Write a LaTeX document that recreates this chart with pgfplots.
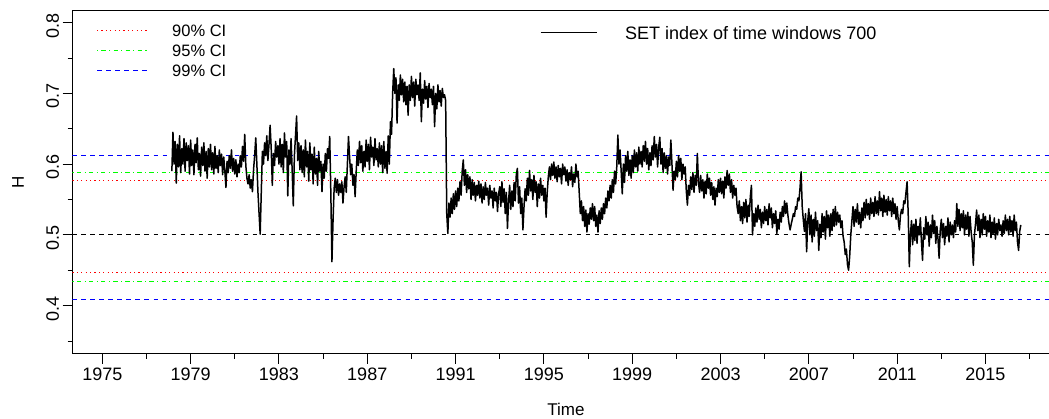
\documentclass[border=0pt]{standalone}
\usepackage{pgfplots}
\pgfplotsset{compat=1.18}
\usepackage{pgfplotstable}
\usepackage{fontspec}
\setmainfont{Liberation Sans}

\definecolor{cired}{RGB}{255,0,0}
\definecolor{cigreen}{RGB}{0,255,0}
\definecolor{ciblue}{RGB}{0,0,255}

\tikzset{
  rdashed/.style={dash pattern=on 4.5pt off 4.5pt},
  rdotted/.style={dash pattern=on 1.1pt off 3.3pt},
  rdotdash/.style={dash pattern=on 1.1pt off 3.3pt on 4.4pt off 3.3pt},
}

% Hurst exponent H of the SET index, rolling window of 700 days
\pgfplotstableread[row sep=\\]{
year H\\
1978.15 0.590\\ 1978.20 0.645\\ 1978.25 0.600\\ 1978.30 0.632\\ 1978.35 0.573\\ 1978.40 0.628\\ 1978.45 0.596\\ 1978.50 0.640\\ 1978.55 0.588\\ 1978.60 0.622\\
1978.65 0.600\\ 1978.70 0.636\\ 1978.75 0.590\\ 1978.80 0.630\\ 1978.85 0.605\\ 1978.90 0.626\\ 1978.95 0.586\\
1979.00 0.634\\ 1979.05 0.598\\ 1979.10 0.620\\ 1979.15 0.585\\ 1979.20 0.628\\ 1979.25 0.602\\ 1979.30 0.637\\ 1979.35 0.592\\ 1979.40 0.615\\ 1979.45 0.583\\
1979.50 0.624\\ 1979.55 0.598\\ 1979.60 0.630\\ 1979.65 0.590\\ 1979.70 0.618\\ 1979.75 0.580\\ 1979.80 0.622\\ 1979.85 0.596\\ 1979.90 0.628\\ 1979.95 0.592\\
1980.00 0.616\\ 1980.05 0.586\\ 1980.10 0.625\\ 1980.15 0.594\\ 1980.20 0.612\\ 1980.25 0.588\\ 1980.30 0.620\\ 1980.35 0.598\\ 1980.40 0.614\\ 1980.45 0.585\\
1980.50 0.610\\ 1980.55 0.590\\ 1980.60 0.567\\ 1980.65 0.604\\ 1980.70 0.588\\ 1980.75 0.612\\ 1980.80 0.594\\ 1980.85 0.620\\ 1980.90 0.590\\ 1980.95 0.608\\
1981.00 0.586\\ 1981.05 0.606\\ 1981.10 0.582\\ 1981.15 0.600\\ 1981.20 0.588\\ 1981.25 0.612\\ 1981.30 0.596\\ 1981.35 0.625\\ 1981.40 0.604\\ 1981.45 0.642\\
1981.50 0.598\\ 1981.55 0.580\\ 1981.60 0.572\\ 1981.65 0.585\\ 1981.70 0.566\\ 1981.75 0.578\\ 1981.80 0.561\\ 1981.85 0.592\\ 1981.90 0.612\\ 1981.95 0.637\\
1982.00 0.600\\ 1982.05 0.560\\ 1982.10 0.530\\ 1982.15 0.501\\ 1982.20 0.560\\ 1982.25 0.618\\ 1982.30 0.600\\ 1982.35 0.630\\ 1982.40 0.612\\ 1982.45 0.640\\
1982.50 0.605\\ 1982.55 0.628\\ 1982.60 0.655\\ 1982.65 0.622\\ 1982.70 0.570\\ 1982.75 0.615\\ 1982.80 0.598\\ 1982.85 0.632\\ 1982.90 0.610\\ 1982.95 0.626\\
1983.00 0.600\\ 1983.05 0.636\\ 1983.10 0.596\\ 1983.15 0.628\\ 1983.20 0.588\\ 1983.25 0.644\\ 1983.30 0.610\\ 1983.35 0.632\\ 1983.40 0.555\\ 1983.45 0.620\\
1983.50 0.600\\ 1983.55 0.636\\ 1983.60 0.590\\ 1983.65 0.541\\ 1983.70 0.612\\ 1983.75 0.640\\ 1983.80 0.668\\ 1983.85 0.605\\ 1983.90 0.630\\ 1983.95 0.592\\
1984.00 0.626\\ 1984.05 0.588\\ 1984.10 0.620\\ 1984.15 0.582\\ 1984.20 0.634\\ 1984.25 0.596\\ 1984.30 0.618\\ 1984.35 0.576\\ 1984.40 0.630\\ 1984.45 0.592\\
1984.50 0.614\\ 1984.55 0.572\\ 1984.60 0.624\\ 1984.65 0.586\\ 1984.70 0.608\\ 1984.75 0.570\\ 1984.80 0.618\\ 1984.85 0.590\\ 1984.90 0.604\\ 1984.95 0.561\\
1985.00 0.600\\ 1985.05 0.580\\ 1985.10 0.615\\ 1985.15 0.590\\ 1985.20 0.622\\ 1985.25 0.608\\ 1985.30 0.639\\ 1985.35 0.560\\ 1985.40 0.462\\ 1985.45 0.520\\
1985.50 0.566\\ 1985.55 0.580\\ 1985.60 0.560\\ 1985.65 0.578\\ 1985.70 0.556\\ 1985.75 0.572\\ 1985.80 0.560\\ 1985.85 0.575\\ 1985.90 0.545\\ 1985.95 0.568\\
1986.00 0.582\\ 1986.05 0.560\\ 1986.10 0.600\\ 1986.15 0.639\\ 1986.20 0.610\\ 1986.25 0.585\\ 1986.30 0.600\\ 1986.35 0.570\\ 1986.40 0.585\\ 1986.45 0.554\\
1986.50 0.590\\ 1986.55 0.620\\ 1986.60 0.598\\ 1986.65 0.632\\ 1986.70 0.602\\ 1986.75 0.626\\ 1986.80 0.590\\ 1986.85 0.618\\ 1986.90 0.596\\ 1986.95 0.634\\
1987.00 0.604\\ 1987.05 0.628\\ 1987.10 0.592\\ 1987.15 0.638\\ 1987.20 0.610\\ 1987.25 0.624\\ 1987.30 0.598\\ 1987.35 0.636\\ 1987.40 0.606\\ 1987.45 0.622\\
1987.50 0.596\\ 1987.55 0.630\\ 1987.60 0.600\\ 1987.65 0.626\\ 1987.70 0.588\\ 1987.75 0.632\\ 1987.80 0.594\\ 1987.85 0.618\\ 1987.90 0.587\\ 1987.95 0.640\\
1988.00 0.600\\ 1988.05 0.660\\ 1988.10 0.642\\ 1988.15 0.700\\ 1988.20 0.735\\ 1988.25 0.700\\ 1988.30 0.722\\ 1988.35 0.658\\ 1988.40 0.712\\ 1988.45 0.690\\
1988.50 0.726\\ 1988.55 0.698\\ 1988.60 0.720\\ 1988.65 0.688\\ 1988.70 0.716\\ 1988.75 0.684\\ 1988.80 0.710\\ 1988.85 0.669\\ 1988.90 0.712\\ 1988.95 0.690\\
1989.00 0.724\\ 1989.05 0.694\\ 1989.10 0.716\\ 1989.15 0.682\\ 1989.20 0.720\\ 1989.25 0.698\\ 1989.30 0.712\\ 1989.35 0.690\\ 1989.40 0.729\\ 1989.45 0.660\\
1989.50 0.706\\ 1989.55 0.686\\ 1989.60 0.718\\ 1989.65 0.692\\ 1989.70 0.710\\ 1989.75 0.680\\ 1989.80 0.714\\ 1989.85 0.694\\ 1989.90 0.706\\ 1989.95 0.684\\
1990.00 0.710\\ 1990.05 0.653\\ 1990.10 0.700\\ 1990.15 0.678\\ 1990.20 0.712\\ 1990.25 0.688\\ 1990.30 0.704\\ 1990.35 0.682\\ 1990.40 0.707\\ 1990.45 0.694\\
1990.50 0.698\\ 1990.55 0.690\\ 1990.60 0.530\\ 1990.65 0.502\\ 1990.70 0.545\\ 1990.75 0.525\\ 1990.80 0.552\\ 1990.85 0.530\\ 1990.90 0.558\\ 1990.95 0.536\\
1991.00 0.562\\ 1991.05 0.540\\ 1991.10 0.566\\ 1991.15 0.548\\ 1991.20 0.575\\ 1991.25 0.556\\ 1991.30 0.590\\ 1991.35 0.606\\ 1991.40 0.570\\ 1991.45 0.592\\
1991.50 0.560\\ 1991.55 0.585\\ 1991.60 0.565\\ 1991.65 0.582\\ 1991.70 0.550\\ 1991.75 0.578\\ 1991.80 0.556\\ 1991.85 0.574\\ 1991.90 0.548\\ 1991.95 0.570\\
1992.00 0.556\\ 1992.05 0.576\\ 1992.10 0.552\\ 1992.15 0.572\\ 1992.20 0.545\\ 1992.25 0.568\\ 1992.30 0.550\\ 1992.35 0.574\\ 1992.40 0.556\\ 1992.45 0.566\\
1992.50 0.542\\ 1992.55 0.570\\ 1992.60 0.552\\ 1992.65 0.562\\ 1992.70 0.538\\ 1992.75 0.566\\ 1992.80 0.548\\ 1992.85 0.560\\ 1992.90 0.533\\ 1992.95 0.558\\
1993.00 0.568\\ 1993.05 0.540\\ 1993.10 0.575\\ 1993.15 0.546\\ 1993.20 0.565\\ 1993.25 0.530\\ 1993.30 0.560\\ 1993.35 0.509\\ 1993.40 0.548\\ 1993.45 0.570\\
1993.50 0.536\\ 1993.55 0.562\\ 1993.60 0.540\\ 1993.65 0.574\\ 1993.70 0.548\\ 1993.75 0.585\\ 1993.80 0.594\\ 1993.85 0.545\\ 1993.90 0.568\\ 1993.95 0.530\\
1994.00 0.552\\ 1994.05 0.507\\ 1994.10 0.540\\ 1994.15 0.565\\ 1994.20 0.548\\ 1994.25 0.580\\ 1994.30 0.556\\ 1994.35 0.591\\ 1994.40 0.562\\ 1994.45 0.578\\
1994.50 0.550\\ 1994.55 0.584\\ 1994.60 0.560\\ 1994.65 0.575\\ 1994.70 0.540\\ 1994.75 0.572\\ 1994.80 0.552\\ 1994.85 0.580\\ 1994.90 0.556\\ 1994.95 0.570\\
1995.00 0.548\\ 1995.05 0.566\\ 1995.10 0.525\\ 1995.15 0.560\\ 1995.20 0.582\\ 1995.25 0.596\\ 1995.30 0.578\\ 1995.35 0.600\\ 1995.40 0.584\\ 1995.45 0.603\\
1995.50 0.580\\ 1995.55 0.596\\ 1995.60 0.575\\ 1995.65 0.598\\ 1995.70 0.582\\ 1995.75 0.594\\ 1995.80 0.572\\ 1995.85 0.600\\ 1995.90 0.585\\ 1995.95 0.596\\
1996.00 0.576\\ 1996.05 0.592\\ 1996.10 0.570\\ 1996.15 0.588\\ 1996.20 0.578\\ 1996.25 0.596\\ 1996.30 0.568\\ 1996.35 0.586\\ 1996.40 0.574\\ 1996.45 0.600\\
1996.50 0.582\\ 1996.55 0.590\\ 1996.60 0.560\\ 1996.65 0.530\\ 1996.70 0.548\\ 1996.75 0.520\\ 1996.80 0.540\\ 1996.85 0.512\\ 1996.90 0.535\\ 1996.95 0.504\\
1997.00 0.530\\ 1997.05 0.515\\ 1997.10 0.538\\ 1997.15 0.522\\ 1997.20 0.544\\ 1997.25 0.520\\ 1997.30 0.540\\ 1997.35 0.512\\ 1997.40 0.528\\ 1997.45 0.504\\
1997.50 0.534\\ 1997.55 0.516\\ 1997.60 0.538\\ 1997.65 0.522\\ 1997.70 0.544\\ 1997.75 0.530\\ 1997.80 0.552\\ 1997.85 0.538\\ 1997.90 0.562\\ 1997.95 0.548\\
1998.00 0.570\\ 1998.05 0.552\\ 1998.10 0.578\\ 1998.15 0.560\\ 1998.20 0.590\\ 1998.25 0.572\\ 1998.30 0.596\\ 1998.35 0.641\\ 1998.40 0.600\\ 1998.45 0.620\\
1998.50 0.590\\ 1998.55 0.558\\ 1998.60 0.600\\ 1998.65 0.574\\ 1998.70 0.612\\ 1998.75 0.590\\ 1998.80 0.618\\ 1998.85 0.584\\ 1998.90 0.606\\ 1998.95 0.580\\
1999.00 0.612\\ 1999.05 0.588\\ 1999.10 0.620\\ 1999.15 0.596\\ 1999.20 0.616\\ 1999.25 0.590\\ 1999.30 0.624\\ 1999.35 0.600\\ 1999.40 0.618\\ 1999.45 0.596\\
1999.50 0.626\\ 1999.55 0.604\\ 1999.60 0.632\\ 1999.65 0.600\\ 1999.70 0.622\\ 1999.75 0.592\\ 1999.80 0.616\\ 1999.85 0.598\\ 1999.90 0.626\\ 1999.95 0.606\\
2000.00 0.639\\ 2000.05 0.610\\ 2000.10 0.628\\ 2000.15 0.596\\ 2000.20 0.624\\ 2000.25 0.638\\ 2000.30 0.600\\ 2000.35 0.622\\ 2000.40 0.588\\ 2000.45 0.616\\
2000.50 0.594\\ 2000.55 0.612\\ 2000.60 0.586\\ 2000.65 0.610\\ 2000.70 0.598\\ 2000.75 0.634\\ 2000.80 0.600\\ 2000.85 0.563\\ 2000.90 0.590\\ 2000.95 0.578\\
2001.00 0.604\\ 2001.05 0.582\\ 2001.10 0.612\\ 2001.15 0.590\\ 2001.20 0.608\\ 2001.25 0.578\\ 2001.30 0.600\\ 2001.35 0.586\\ 2001.40 0.596\\ 2001.45 0.562\\
2001.50 0.542\\ 2001.55 0.570\\ 2001.60 0.556\\ 2001.65 0.582\\ 2001.70 0.564\\ 2001.75 0.588\\ 2001.80 0.560\\ 2001.85 0.584\\ 2001.90 0.570\\ 2001.95 0.615\\
2002.00 0.575\\ 2002.05 0.560\\ 2002.10 0.584\\ 2002.15 0.562\\ 2002.20 0.578\\ 2002.25 0.552\\ 2002.30 0.576\\ 2002.35 0.558\\ 2002.40 0.586\\ 2002.45 0.566\\
2002.50 0.580\\ 2002.55 0.556\\ 2002.60 0.574\\ 2002.65 0.550\\ 2002.70 0.568\\ 2002.75 0.542\\ 2002.80 0.566\\ 2002.85 0.554\\ 2002.90 0.578\\ 2002.95 0.560\\
2003.00 0.580\\ 2003.05 0.558\\ 2003.10 0.576\\ 2003.15 0.552\\ 2003.20 0.582\\ 2003.25 0.566\\ 2003.30 0.591\\ 2003.35 0.570\\ 2003.40 0.586\\ 2003.45 0.560\\
2003.50 0.578\\ 2003.55 0.552\\ 2003.60 0.570\\ 2003.65 0.556\\ 2003.70 0.566\\ 2003.75 0.540\\ 2003.80 0.530\\ 2003.85 0.548\\ 2003.90 0.520\\ 2003.95 0.540\\
2004.00 0.516\\ 2004.05 0.546\\ 2004.10 0.524\\ 2004.15 0.550\\ 2004.20 0.518\\ 2004.25 0.542\\ 2004.30 0.526\\ 2004.35 0.554\\ 2004.40 0.570\\ 2004.45 0.500\\
2004.50 0.530\\ 2004.55 0.512\\ 2004.60 0.538\\ 2004.65 0.518\\ 2004.70 0.542\\ 2004.75 0.522\\ 2004.80 0.536\\ 2004.85 0.510\\ 2004.90 0.532\\ 2004.95 0.516\\
2005.00 0.540\\ 2005.05 0.520\\ 2005.10 0.536\\ 2005.15 0.514\\ 2005.20 0.544\\ 2005.25 0.524\\ 2005.30 0.538\\ 2005.35 0.510\\ 2005.40 0.530\\ 2005.45 0.516\\
2005.50 0.534\\ 2005.55 0.502\\ 2005.60 0.522\\ 2005.65 0.508\\ 2005.70 0.532\\ 2005.75 0.518\\ 2005.80 0.540\\ 2005.85 0.526\\ 2005.90 0.548\\ 2005.95 0.530\\
2006.00 0.545\\ 2006.05 0.528\\ 2006.10 0.516\\ 2006.15 0.507\\ 2006.20 0.515\\ 2006.25 0.522\\ 2006.30 0.530\\ 2006.35 0.526\\ 2006.40 0.540\\ 2006.45 0.536\\
2006.50 0.552\\ 2006.55 0.548\\ 2006.60 0.566\\ 2006.65 0.589\\ 2006.70 0.540\\ 2006.75 0.521\\ 2006.80 0.505\\ 2006.85 0.530\\ 2006.90 0.476\\ 2006.95 0.520\\
2007.00 0.537\\ 2007.05 0.500\\ 2007.10 0.528\\ 2007.15 0.490\\ 2007.20 0.522\\ 2007.25 0.498\\ 2007.30 0.532\\ 2007.35 0.506\\ 2007.40 0.520\\ 2007.45 0.478\\
2007.50 0.515\\ 2007.55 0.496\\ 2007.60 0.530\\ 2007.65 0.504\\ 2007.70 0.526\\ 2007.75 0.494\\ 2007.80 0.534\\ 2007.85 0.510\\ 2007.90 0.528\\ 2007.95 0.498\\
2008.00 0.530\\ 2008.05 0.506\\ 2008.10 0.536\\ 2008.15 0.512\\ 2008.20 0.540\\ 2008.25 0.514\\ 2008.30 0.532\\ 2008.35 0.518\\ 2008.40 0.528\\ 2008.45 0.510\\
2008.50 0.520\\ 2008.55 0.498\\ 2008.60 0.490\\ 2008.65 0.472\\ 2008.70 0.480\\ 2008.75 0.458\\ 2008.80 0.450\\ 2008.85 0.470\\ 2008.90 0.500\\ 2008.95 0.520\\
2009.00 0.540\\ 2009.05 0.512\\ 2009.10 0.536\\ 2009.15 0.518\\ 2009.20 0.544\\ 2009.25 0.515\\ 2009.30 0.532\\ 2009.35 0.510\\ 2009.40 0.538\\ 2009.45 0.520\\
2009.50 0.546\\ 2009.55 0.524\\ 2009.60 0.550\\ 2009.65 0.528\\ 2009.70 0.544\\ 2009.75 0.522\\ 2009.80 0.552\\ 2009.85 0.530\\ 2009.90 0.546\\ 2009.95 0.526\\
2010.00 0.554\\ 2010.05 0.530\\ 2010.10 0.548\\ 2010.15 0.528\\ 2010.20 0.561\\ 2010.25 0.534\\ 2010.30 0.552\\ 2010.35 0.526\\ 2010.40 0.556\\ 2010.45 0.532\\
2010.50 0.550\\ 2010.55 0.528\\ 2010.60 0.554\\ 2010.65 0.534\\ 2010.70 0.548\\ 2010.75 0.526\\ 2010.80 0.552\\ 2010.85 0.530\\ 2010.90 0.544\\ 2010.95 0.522\\
2011.00 0.540\\ 2011.05 0.520\\ 2011.10 0.507\\ 2011.15 0.528\\ 2011.20 0.536\\ 2011.25 0.530\\ 2011.30 0.548\\ 2011.35 0.544\\ 2011.40 0.560\\ 2011.45 0.575\\
2011.50 0.530\\ 2011.55 0.455\\ 2011.60 0.500\\ 2011.65 0.520\\ 2011.70 0.486\\ 2011.75 0.515\\ 2011.80 0.492\\ 2011.85 0.522\\ 2011.90 0.488\\ 2011.95 0.512\\
2012.00 0.500\\ 2012.05 0.524\\ 2012.10 0.490\\ 2012.15 0.464\\ 2012.20 0.510\\ 2012.25 0.494\\ 2012.30 0.526\\ 2012.35 0.500\\ 2012.40 0.518\\ 2012.45 0.484\\
2012.50 0.514\\ 2012.55 0.496\\ 2012.60 0.528\\ 2012.65 0.502\\ 2012.70 0.520\\ 2012.75 0.488\\ 2012.80 0.512\\ 2012.85 0.494\\ 2012.90 0.467\\ 2012.95 0.506\\
2013.00 0.522\\ 2013.05 0.496\\ 2013.10 0.516\\ 2013.15 0.486\\ 2013.20 0.512\\ 2013.25 0.498\\ 2013.30 0.524\\ 2013.35 0.490\\ 2013.40 0.518\\ 2013.45 0.500\\
2013.50 0.514\\ 2013.55 0.496\\ 2013.60 0.520\\ 2013.65 0.504\\ 2013.70 0.544\\ 2013.75 0.512\\ 2013.80 0.536\\ 2013.85 0.506\\ 2013.90 0.530\\ 2013.95 0.510\\
2014.00 0.534\\ 2014.05 0.500\\ 2014.10 0.528\\ 2014.15 0.508\\ 2014.20 0.532\\ 2014.25 0.498\\ 2014.30 0.526\\ 2014.35 0.504\\ 2014.40 0.490\\ 2014.45 0.457\\
2014.50 0.500\\ 2014.55 0.516\\ 2014.60 0.535\\ 2014.65 0.506\\ 2014.70 0.528\\ 2014.75 0.496\\ 2014.80 0.522\\ 2014.85 0.500\\ 2014.90 0.530\\ 2014.95 0.508\\
2015.00 0.526\\ 2015.05 0.498\\ 2015.10 0.520\\ 2015.15 0.504\\ 2015.20 0.528\\ 2015.25 0.496\\ 2015.30 0.518\\ 2015.35 0.502\\ 2015.40 0.524\\ 2015.45 0.494\\
2015.50 0.516\\ 2015.55 0.500\\ 2015.60 0.522\\ 2015.65 0.506\\ 2015.70 0.514\\ 2015.75 0.498\\ 2015.80 0.520\\ 2015.85 0.502\\ 2015.90 0.528\\ 2015.95 0.506\\
2016.00 0.522\\ 2016.05 0.500\\ 2016.10 0.526\\ 2016.15 0.504\\ 2016.20 0.520\\ 2016.25 0.498\\ 2016.30 0.528\\ 2016.35 0.506\\ 2016.40 0.518\\ 2016.45 0.490\\
2016.50 0.478\\ 2016.55 0.505\\ 2016.60 0.514\\
}\hurst

\begin{document}
\begin{tikzpicture}
\path[use as bounding box] (-72.5pt,-65pt) rectangle (976.5pt,354pt);
\begin{axis}[
  at={(0pt,0pt)}, anchor=south west,
  scale only axis, width=977pt, height=343pt,
  xmin=1973.65, xmax=2017.90, ymin=0.3316, ymax=0.8164,
  xtick={1975,1979,1983,1987,1991,1995,1999,2003,2007,2011,2015},
  xticklabels={1975,1979,1983,1987,1991,1995,1999,2003,2007,2011,2015},
  minor xtick={1977,1981,1985,1989,1993,1997,2001,2005,2009,2013,2017},
  ytick={0.4,0.5,0.6,0.7,0.8},
  yticklabels={0.4,0.5,0.6,0.7,0.8},
  minor ytick={0.35,0.45,0.55,0.65,0.75},
  xtick pos=bottom, ytick pos=left,
  tick align=outside, major tick length=10pt, minor tick length=5pt,
  every tick/.style={black, line width=0.9pt},
  axis line style={line width=1pt},
  /pgf/number format/assume math mode=true,
  ticklabel style={font=\fontsize{18}{21}\selectfont},
  yticklabel style={rotate=90, anchor=south, xshift=-3pt},
  label style={font=\fontsize{17}{20}\selectfont},
  xlabel={Time}, ylabel={H},
  xlabel style={at={(axis description cs:0.505,-0.163)}, anchor=center},
  ylabel style={at={(axis description cs:-0.0558,0.5)}, anchor=center},
]
% confidence bands around H = 0.5
\addplot[black, rdashed, line width=0.9pt] coordinates {(1973.65,0.5) (2017.90,0.5)};
\addplot[cired, rdotted, line width=0.9pt] coordinates {(1973.65,0.5764) (2017.90,0.5764)};
\addplot[cired, rdotted, line width=0.9pt] coordinates {(1973.65,0.4462) (2017.90,0.4462)};
\addplot[cigreen, rdotdash, line width=0.9pt] coordinates {(1973.65,0.5887) (2017.90,0.5887)};
\addplot[cigreen, rdotdash, line width=0.9pt] coordinates {(1973.65,0.4335) (2017.90,0.4335)};
\addplot[ciblue, rdashed, line width=0.9pt] coordinates {(1973.65,0.6127) (2017.90,0.6127)};
\addplot[ciblue, rdashed, line width=0.9pt] coordinates {(1973.65,0.4090) (2017.90,0.4090)};
% rolling Hurst exponent
\addplot[black, line width=1.5pt, line join=round] table[x=year, y=H] {\hurst};
\end{axis}
% legends
\draw[cired, rdotted, line width=0.9pt] (24.5pt,323.3pt) -- (74.5pt,323.3pt);
\draw[cigreen, rdotdash, line width=0.9pt] (24.5pt,303.3pt) -- (74.5pt,303.3pt);
\draw[ciblue, rdashed, line width=0.9pt] (24.5pt,283.3pt) -- (74.5pt,283.3pt);
\node[anchor=west, inner sep=0pt, font=\fontsize{16.5}{19}\selectfont] at (99.5pt,323.3pt) {90\% CI};
\node[anchor=west, inner sep=0pt, font=\fontsize{16.5}{19}\selectfont] at (99.5pt,303.3pt) {95\% CI};
\node[anchor=west, inner sep=0pt, font=\fontsize{16.5}{19}\selectfont] at (99.5pt,283.3pt) {99\% CI};
\draw[black, line width=1pt] (468.2pt,321.3pt) -- (524.8pt,321.3pt);
\node[anchor=west, inner sep=0pt, font=\fontsize{18}{21}\selectfont] at (552.5pt,321.3pt) {SET index of time windows 700};
\end{tikzpicture}
\end{document}
